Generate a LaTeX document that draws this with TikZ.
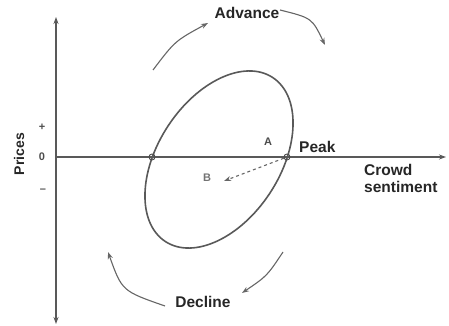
\documentclass[tikz,border=0pt]{standalone}
\usepackage{fontspec}
\setmainfont{Liberation Sans}
\usetikzlibrary{arrows.meta}
\begin{document}
\begin{tikzpicture}[x=1pt,y=-1pt,
  axis/.style={draw=black!65,line width=1.1pt},
  ring/.style={draw=black!65,line width=1.6pt},
  curvearrow/.style={draw=black!60,line width=1.1pt,-{Stealth[length=7pt,width=5pt]}},
  lbl/.style={font=\fontsize{15.5}{17}\selectfont\bfseries,text=black!85,inner sep=0pt},
  small/.style={font=\fontsize{11}{12}\selectfont\bfseries,text=black!70,inner sep=0pt},
  dot/.style={circle,draw=black!70,line width=0.9pt,minimum size=6pt,inner sep=0pt}]
\useasboundingbox (0,0) rectangle (449,326);
% axes
\coordinate (vtop) at (56,17);
\coordinate (vbot) at (56,324);
\coordinate (horig) at (56,157);
\coordinate (hend) at (446,157);
\draw[axis,{Stealth[length=7pt,width=5pt]}-{Stealth[length=7pt,width=5pt]}] (vtop) -- (vbot);
\draw[axis,-{Stealth[length=7pt,width=5pt]}] (horig) -- (hend);
% ellipse
\draw[ring] (219,159.5) ellipse [x radius=98pt, y radius=61pt, rotate=56.8];
% intersection points
\node[dot] (left) at (152,157) {};
\node[dot] (peakpt) at (287,157) {};
% labels
\node[lbl] (adv) at (247,13) {Advance};
\node[lbl] (dec) at (203,302) {Decline};
\node[lbl,anchor=west] (peak) at (299,147) {Peak};
\node[lbl,anchor=north west,align=left,font=\fontsize{15.5}{17.5}\selectfont\bfseries] (crowd) at (364,164) {Crowd\\sentiment};
\node[lbl,rotate=90,font=\fontsize{14}{16}\selectfont\bfseries] (prices) at (19,154) {Prices};
\node[small] (plus) at (42,127) {+};
\node[small] (zero) at (42,157) {0};
\node[small] (minus) at (43,191) {–};
\node[small] (A) at (268,142) {A};
\node[small,text=black!55] (B) at (207,178) {B};
% dashed arrow
\coordinate (bend) at (224,181);
\draw[draw=black!60,line width=1.1pt,dashed,-{Stealth[length=7pt,width=5pt]}] (peakpt) -- (bend);
% curved arrows
\coordinate (a1s) at (153,70);
\coordinate (a1e) at (208,23);
\coordinate (a2s) at (280,10);
\coordinate (a2e) at (325,45);
\coordinate (d1s) at (165,306);
\coordinate (d1e) at (108,252);
\coordinate (d2s) at (283,252);
\coordinate (d2e) at (242,293);
\draw[curvearrow] (a1s) .. controls (175,41) .. (a1e);
\draw[curvearrow] (a2s) .. controls (312,18) .. (a2e);
\draw[curvearrow] (d1s) .. controls (122,291) .. (d1e);
\draw[curvearrow] (d2s) .. controls (267,276) .. (d2e);
\end{tikzpicture}
\end{document}
